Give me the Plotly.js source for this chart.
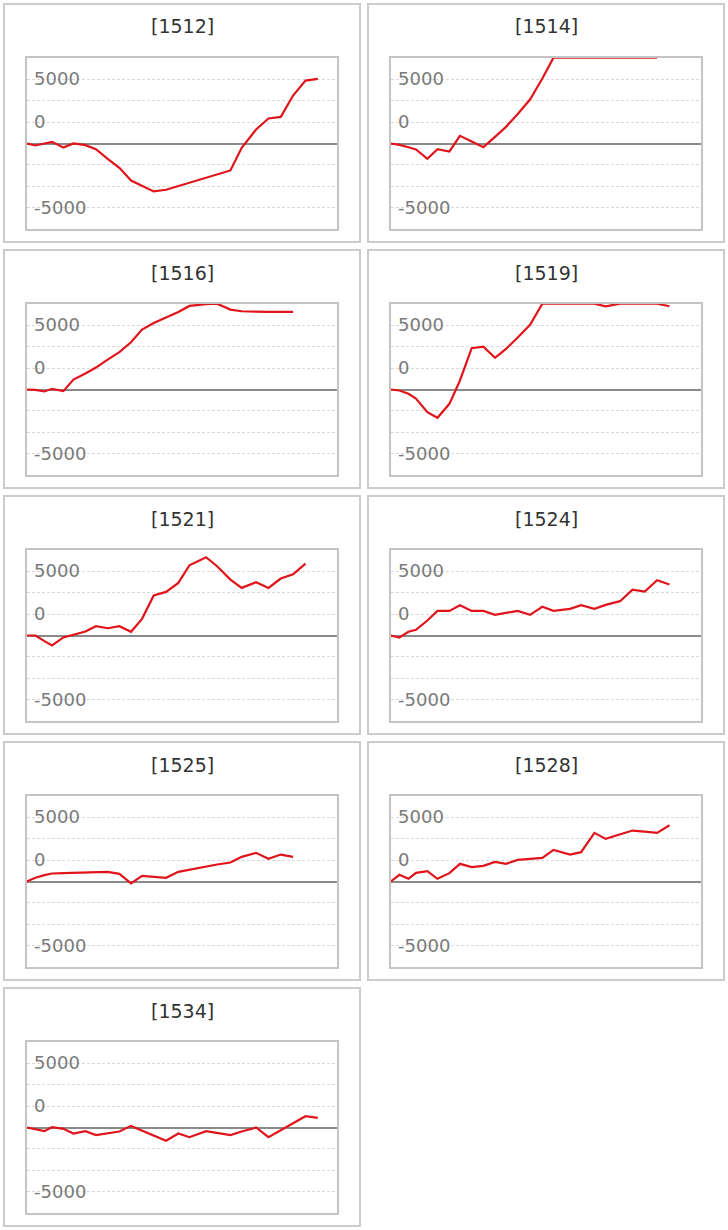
<!DOCTYPE html>
<html><head><meta charset="utf-8">
<script src="https://cdn.plot.ly/plotly-3.0.1.min.js"></script>
<style>html,body{margin:0;padding:0;background:#fff}#chart{width:728px;height:1230px}</style>
</head><body><div id="chart"></div>
<script>
// Panel titles
const panelNames = ['[1512]', '[1514]', '[1516]', '[1519]', '[1521]', '[1524]', '[1525]', '[1528]', '[1534]'];
// Shared x positions (in day-like units)
const xPos = [0, 0.75, 1.53, 2.18, 3.16, 4.03, 5.06, 5.97, 6.98, 7.99, 8.99, 9.94, 10.95, 12.01, 13.07, 14.03, 15.46, 16.41, 17.56, 18.53, 19.77, 20.84, 21.9, 22.96, 24.03, 25.09];
// Series values
const s1512 = [0, -230, 0, 190, -470, 0, -190, -660, -1790, -2830, -4310, -4970, -5590, -5390, -4950, -4560, -3980, -3590, -3140, -500, 1630, 2910, 3100, 5590, 7330, 7530];
const s1514 = [0, -160, -430, -700, -1790, -660, -930, 890, 230, -430, 780, 1940, 3450, 5120, 7570, 10000, 10000, 10000, 10000, 10000, 10000, 10000, 10000, 10000];
const s1516 = [0, -40, -230, 80, -190, 1160, 1860, 2560, 3490, 4350, 5510, 6980, 7760, 8380, 9040, 9740, 9950, 10000, 9310, 9120, 9040, 9040, 9040, 9040];
const s1519 = [0, -120, -500, -1050, -2640, -3300, -1670, 1050, 4810, 5000, 3690, 4730, 6050, 7530, 10000, 10000, 10000, 10000, 10000, 9700, 10000, 10000, 10000, 10000, 9700];
const s1521 = [0, 0, -660, -1160, -230, 120, 470, 1090, 850, 1090, 430, 1940, 4660, 5080, 6130, 8190, 9120, 8070, 6520, 5550, 6210, 5550, 6640, 7140, 8380];
const s1524 = [0, -230, 430, 660, 1750, 2870, 2870, 3530, 2870, 2870, 2410, 2640, 2870, 2410, 3340, 2870, 3100, 3530, 3100, 3570, 4000, 5350, 5120, 6440, 5940];
const s1525 = [0, 430, 740, 930, 970, 1010, 1090, 1130, 1130, 890, -230, 660, 540, 430, 1130, 1400, 1750, 1980, 2210, 2870, 3340, 2640, 3140, 2870];
const s1528 = [0, 780, 310, 1010, 1200, 310, 970, 2060, 1670, 1820, 2290, 2060, 2520, 2640, 2760, 3690, 3140, 3420, 5670, 4970, 5470, 5940, 5820, 5670, 6560];
const s1534 = [0, -190, -430, 40, -160, -700, -430, -890, -700, -470, 190, -370, -930, -1550, -700, -1130, -430, -620, -890, -470, 0, -1130, -310, 500, 1320, 1130];
// Tick labels as they appear in the picture
const yTickText = ['5000', '0', '-5000'];

const series = [s1512, s1514, s1516, s1519, s1521, s1524, s1525, s1528, s1534];
const W = 728, H = 1230;
const yTickVals = [7500, 2500, -7500];
const gridStyle = {gridcolor: '#d9d9d9', griddash: '3px,2px', gridwidth: 1};

const traces = [];
const layout = {
  width: W, height: H, margin: {l: 0, r: 0, t: 0, b: 0},
  paper_bgcolor: '#ffffff', plot_bgcolor: '#ffffff', showlegend: false,
  shapes: [], annotations: []
};

series.forEach((ys, i) => {
  const r = Math.floor(i / 2), c = i % 2;
  const ax = i === 0 ? '' : String(i + 1);
  traces.push({
    x: xPos.slice(0, ys.length), y: ys, type: 'scatter', mode: 'lines',
    line: {color: '#e0141b', width: 2.2}, xaxis: 'x' + ax, yaxis: 'y' + ax, hoverinfo: 'skip'
  });
  layout['xaxis' + ax] = {
    domain: [(26.7 + 364 * c) / W, (336.7 + 364 * c) / W], range: [0, 26.72],
    anchor: 'y' + ax, showgrid: false, zeroline: false, showticklabels: false, ticks: '',
    showline: true, mirror: true, linecolor: '#c4c4c4', linewidth: 2, fixedrange: true
  };
  layout['yaxis' + ax] = Object.assign({
    domain: [1 - (229.3 + 246 * r) / H, 1 - (57.7 + 246 * r) / H], range: [-10000, 10000],
    anchor: 'x' + ax, tickmode: 'array', tickvals: yTickVals, ticktext: yTickText,
    ticklabelposition: 'inside', ticklabelstandoff: 8, ticks: '',
    tickfont: {family: 'DejaVu Sans', size: 18, color: '#7a7a7a'},
    showgrid: true,
    minor: Object.assign({tickmode: 'linear', tick0: 0, dtick: 2500, showgrid: true, ticks: ''}, gridStyle),
    zeroline: true, zerolinecolor: '#8a8a8a', zerolinewidth: 2,
    showline: true, mirror: true, linecolor: '#c4c4c4', linewidth: 2, fixedrange: true
  }, gridStyle);
  layout.shapes.push({
    type: 'rect', xref: 'paper', yref: 'paper',
    x0: (4 + 364 * c) / W, x1: (360 + 364 * c) / W,
    y0: 1 - (242 + 246 * r) / H, y1: 1 - (4 + 246 * r) / H,
    line: {color: '#cccccc', width: 2}, fillcolor: 'rgba(0,0,0,0)', layer: 'below'
  });
  layout.annotations.push({
    text: panelNames[i], xref: 'paper', yref: 'paper',
    x: (182 + 364 * c) / W, y: 1 - (26.5 + 246 * r) / H,
    xanchor: 'center', yanchor: 'middle', showarrow: false,
    font: {family: 'DejaVu Sans', size: 19, color: '#333333'}
  });
});

Plotly.newPlot('chart', traces, layout, {staticPlot: true, displayModeBar: false});
</script>
</body></html>
